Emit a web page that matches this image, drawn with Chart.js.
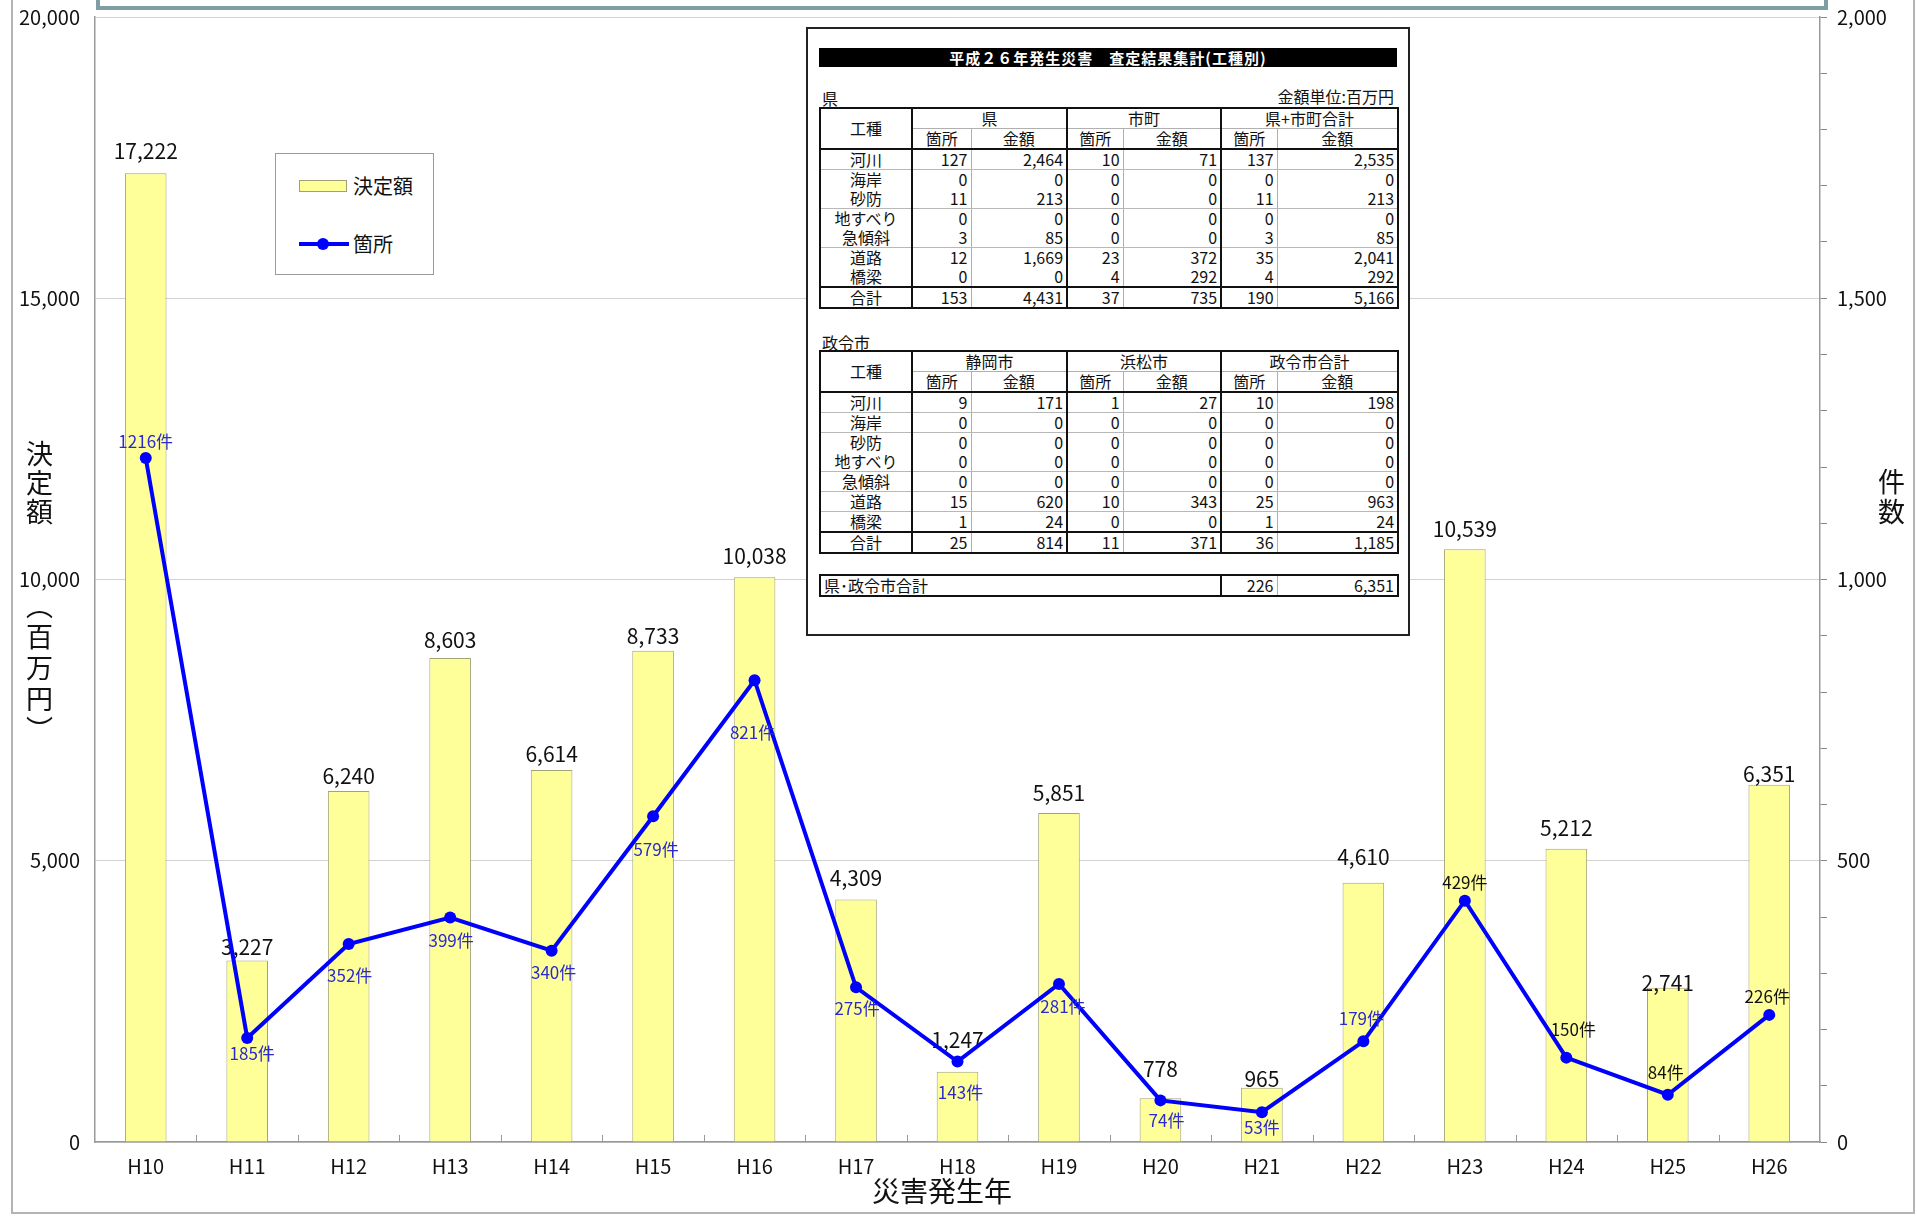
<!DOCTYPE html>
<html lang="ja">
<head>
<meta charset="utf-8">
<script src="https://cdn.jsdelivr.net/npm/chart.js@4/dist/chart.umd.min.js"></script>
<style>
  html, body { margin:0; padding:0; background:#fff; }
  body { width:1917px; height:1218px; position:relative; overflow:hidden; font-family:"Noto Sans CJK JP","Noto Sans",sans-serif; color:#111; }
  #chart { position:absolute; left:0; top:0; }
  .frame { position:absolute; left:11px; top:-10px; width:1904px; height:1224px; border:2px solid #b4b4b4; box-sizing:border-box; pointer-events:none; }
  .tealbox { position:absolute; left:96px; top:-30px; width:1732px; height:40px; border:4px solid #7f9ea3; box-sizing:border-box; background:#fff; }
  .legend { position:absolute; left:275px; top:153px; width:159px; height:122px; border:1px solid #9a9a9a; background:#fff; box-sizing:border-box; }
  .legend .sw1 { position:absolute; left:23px; top:26px; width:48px; height:12px; background:#ffff99; border:1px solid #a0a070; box-sizing:border-box; }
  .legend .ln { position:absolute; left:23px; top:88px; width:50px; height:4px; background:#0000ff; }
  .legend .dot { position:absolute; left:41px; top:84px; width:12px; height:12px; border-radius:50%; background:#0000ff; }
  .legend .t { position:absolute; left:77px; font-size:20px; line-height:24px; }
  .vtitle { position:absolute; writing-mode:vertical-rl; text-orientation:upright; font-size:27px; line-height:30px; }
  .xtitle { position:absolute; font-size:28px; line-height:32px; }
  .tbox { position:absolute; left:806px; top:27px; width:604px; height:609px; border:2px solid #222; background:#fff; box-sizing:border-box; }
  .tbar { position:absolute; left:819px; top:48px; width:578px; height:19px; background:#000; color:#fff; font-size:15px; line-height:19px; text-align:center; letter-spacing:1px; font-weight:bold; }
  .lbl { position:absolute; font-size:16px; line-height:18px; }
  table.t { position:absolute; border-collapse:collapse; table-layout:fixed; font-size:16px; line-height:19px; border:2px solid #111; background:#fff; }
  table.t td { height:19px; padding:0 3px; white-space:nowrap; overflow:hidden; }
  table.t td.c { text-align:center; }
  table.t td.r { text-align:right; }
  table.t .gb { border-right:2px solid #111; }
  table.t .tb { border-right:1px solid #b0b0b0; }
  table.t .hb { border-bottom:1px solid #b0b0b0; }
  table.t tr.hdr2 td { border-bottom:2px solid #111; }
  table.t tr.thin td { border-bottom:1px solid #b8b8b8; }
  table.t tr.tot td { border-top:2px solid #111; }
</style>
</head>
<body>
<canvas id="chart" width="1917" height="1218"></canvas>
<div class="frame"></div>
<div class="tealbox"></div>

<div class="legend">
  <div class="sw1"></div><div class="t" style="top:20px">決定額</div>
  <div class="ln"></div><div class="dot"></div><div class="t" style="top:78px">箇所</div>
</div>

<div class="vtitle" style="left:24px; top:440px; letter-spacing:2px;">決定額</div>
<div class="vtitle" style="left:24px; top:592px; letter-spacing:4px;">（百万円）</div>
<div class="vtitle" style="left:1876px; top:468px; letter-spacing:3px;">件数</div>
<div class="xtitle" style="left:872px; top:1174px;">災害発生年</div>

<div class="tbox"></div>
<div class="tbar">平成２６年発生災害　査定結果集計(工種別)</div>
<div class="lbl" style="left:822px; top:89px;">県</div>
<div class="lbl" style="left:1240px; width:154px; text-align:right; top:87px;">金額単位:百万円</div>
<div class="lbl" style="left:822px; top:333px;">政令市</div>
<div id="tables"></div>

<script>
// ---- chart data ----
const years = ['H10','H11','H12','H13','H14','H15','H16','H17','H18','H19','H20','H21','H22','H23','H24','H25','H26'];
const decidedAmount = [17222, 3227, 6240, 8603, 6614, 8733, 10038, 4309, 1247, 5851, 778, 965, 4610, 10539, 5212, 2741, 6351];
const siteCount = [1216, 185, 352, 399, 340, 579, 821, 275, 143, 281, 74, 53, 179, 429, 150, 84, 226];
const leftTicksMax = 20000;
const rightTicksMax = 2000;

// ---- table data ----
const workTypes = ['河川','海岸','砂防','地すべり','急傾斜','道路','橋梁'];
const kenCount = [127, 0, 11, 0, 3, 12, 0];
const kenAmount = [2464, 0, 213, 0, 85, 1669, 0];
const shichoCount = [10, 0, 0, 0, 0, 23, 4];
const shichoAmount = [71, 0, 0, 0, 0, 372, 292];
const kenShichoCount = [137, 0, 11, 0, 3, 35, 4];
const kenShichoAmount = [2535, 0, 213, 0, 85, 2041, 292];
const kenTotals = [153, 4431, 37, 735, 190, 5166];
const shizuokaCount = [9, 0, 0, 0, 0, 15, 1];
const shizuokaAmount = [171, 0, 0, 0, 0, 620, 24];
const hamamatsuCount = [1, 0, 0, 0, 0, 10, 0];
const hamamatsuAmount = [27, 0, 0, 0, 0, 343, 0];
const seireiCount = [10, 0, 0, 0, 0, 25, 1];
const seireiAmount = [198, 0, 0, 0, 0, 963, 24];
const seireiTotals = [25, 814, 11, 371, 36, 1185];
const grandTotal = [226, 6351];

// ---- label placement style (pixel offsets from each mark) ----
const barLabelDy = [-22,-13,-15,-18,-16,-15,-21,-22,-32,-20,-29,-9,-26,-20,-21,-5,-11];
const countLabelDy = [-16,16,32,23,22,33,52,21,31,23,20,15,-23,-18,-28,-22,-18];
const countLabelDx = [0,5,1,1,2,3,-2,1,3,4,6,0,-2,0,7,-2,-2];
const countLabelColor = ['#2a2ad0','#2a2ad0','#2a2ad0','#2a2ad0','#2a2ad0','#2a2ad0','#2a2ad0','#2a2ad0','#2a2ad0','#2a2ad0','#2a2ad0','#2a2ad0','#2a2ad0','#111','#111','#111','#111'];

const FONT = '"Noto Sans CJK JP", "Noto Sans", sans-serif';
const fmt = n => n.toLocaleString('en-US');

// ---- tables ----
function buildTable(top, groups, counts, amounts, totals, thinRows) {
  let h = '<colgroup><col style="width:92px"><col style="width:59px"><col style="width:96px"><col style="width:56px"><col style="width:98px"><col style="width:56px"><col style="width:121px"></colgroup>';
  h += '<tr><td class="c gb" rowspan="2" style="border-bottom:2px solid #111">工種</td>';
  groups.forEach(g => { h += '<td class="c gb hb" colspan="2">' + g + '</td>'; });
  h += '</tr><tr class="hdr2">';
  groups.forEach(() => { h += '<td class="c tb">箇所</td><td class="c gb">金額</td>'; });
  h += '</tr>';
  workTypes.forEach((w, i) => {
    h += '<tr' + (thinRows.includes(i) ? ' class="thin"' : '') + '><td class="c gb">' + w + '</td>';
    for (let g = 0; g < 3; g++) {
      h += '<td class="r tb">' + fmt(counts[g][i]) + '</td><td class="r gb">' + fmt(amounts[g][i]) + '</td>';
    }
    h += '</tr>';
  });
  h += '<tr class="tot"><td class="c gb">合計</td>';
  for (let g = 0; g < 3; g++) {
    h += '<td class="r tb">' + fmt(totals[g*2]) + '</td><td class="r gb">' + fmt(totals[g*2+1]) + '</td>';
  }
  h += '</tr>';
  return '<table class="t" style="left:819px; top:' + top + 'px; width:578px;">' + h + '</table>';
}
let tablesHtml = '';
tablesHtml += buildTable(107, ['県','市町','県+市町合計'],
  [kenCount, shichoCount, kenShichoCount], [kenAmount, shichoAmount, kenShichoAmount], kenTotals, [0,2,4]);
tablesHtml += buildTable(350, ['静岡市','浜松市','政令市合計'],
  [shizuokaCount, hamamatsuCount, seireiCount], [shizuokaAmount, hamamatsuAmount, seireiAmount], seireiTotals, [0,1,3,4,5]);
tablesHtml += '<table class="t" style="left:819px; top:574px; width:578px;"><colgroup><col style="width:401px"><col style="width:56px"><col style="width:121px"></colgroup>' +
  '<tr><td class="gb" style="text-align:left">県･政令市合計</td><td class="r tb">' + fmt(grandTotal[0]) + '</td><td class="r">' + fmt(grandTotal[1]) + '</td></tr></table>';
document.getElementById('tables').innerHTML = tablesHtml;

// ---- chart ----
const labelPlugin = {
  id: 'valueLabels',
  afterDatasetDraw(chart, args) {
    if (args.index !== 0) return;
    const ctx = chart.ctx;
    const meta = chart.getDatasetMeta(0);
    ctx.save();
    ctx.font = '21px ' + FONT;
    ctx.fillStyle = '#111';
    ctx.textAlign = 'center';
    ctx.textBaseline = 'middle';
    meta.data.forEach((el, i) => ctx.fillText(fmt(decidedAmount[i]), el.x, el.y + barLabelDy[i]));
    ctx.restore();
  },
  afterDatasetsDraw(chart) {
    const ctx = chart.ctx;
    const meta = chart.getDatasetMeta(1);
    ctx.save();
    ctx.font = '17px ' + FONT;
    ctx.textAlign = 'center';
    ctx.textBaseline = 'middle';
    meta.data.forEach((el, i) => {
      ctx.fillStyle = countLabelColor[i];
      ctx.fillText(siteCount[i] + '件', el.x + countLabelDx[i], el.y + countLabelDy[i]);
    });
    ctx.restore();
  },
  beforeDatasetsDraw(chart) {
    const ctx = chart.ctx, xs = chart.scales.x, bottom = chart.chartArea.bottom;
    ctx.save();
    ctx.strokeStyle = '#999';
    ctx.lineWidth = 1;
    for (let i = 0; i < years.length - 1; i++) {
      const x = Math.round((xs.getPixelForTick(i) + xs.getPixelForTick(i + 1)) / 2) + 0.5;
      ctx.beginPath(); ctx.moveTo(x, bottom); ctx.lineTo(x, bottom - 7); ctx.stroke();
    }
    ctx.restore();
  }
};

const fitV = w => s => { s.width = w; s.paddingTop = 0; s.paddingBottom = 0; };

new Chart(document.getElementById('chart'), {
  type: 'bar',
  data: {
    labels: years,
    datasets: [
      {
        type: 'bar', label: '決定額', data: decidedAmount, yAxisID: 'y', order: 2,
        backgroundColor: '#ffff99', borderColor: '#a3a374', borderWidth: 1,
        barPercentage: 0.41, categoryPercentage: 1.0
      },
      {
        type: 'line', label: '箇所', data: siteCount, yAxisID: 'y1', order: 1,
        borderColor: '#0000ff', borderWidth: 4, tension: 0,
        pointRadius: 6, pointBackgroundColor: '#0000ff', pointBorderColor: '#0000ff', pointBorderWidth: 0
      }
    ]
  },
  options: {
    responsive: false,
    animation: false,
    devicePixelRatio: 1,
    layout: { padding: { top: 17, left: 0, right: 0, bottom: 0 } },
    plugins: { legend: { display: false }, tooltip: { enabled: false } },
    scales: {
      x: {
        afterFit: s => { s.height = 76; s.paddingLeft = 0; s.paddingRight = 0; },
        grid: { display: true, drawOnChartArea: false, drawTicks: false },
        border: { display: true, color: '#999', width: 1.5 },
        ticks: { font: { size: 20, family: FONT }, color: '#111', padding: 12 }
      },
      y: {
        position: 'left', min: 0, max: leftTicksMax,
        afterFit: fitV(95),
        grid: { color: '#d2d2d2', lineWidth: 1, drawTicks: false },
        border: { display: true, color: '#999', width: 1.5 },
        ticks: { stepSize: 5000, font: { size: 20, family: FONT }, color: '#111', padding: 15, callback: v => fmt(v) }
      },
      y1: {
        position: 'right', min: 0, max: rightTicksMax,
        afterFit: fitV(97),
        grid: { drawOnChartArea: false, drawTicks: true, tickLength: 7, color: '#888' },
        border: { display: true, color: '#999', width: 1.5 },
        ticks: { stepSize: 100, autoSkip: false, font: { size: 20, family: FONT }, color: '#111', padding: 10,
                 callback: v => (v % 500 === 0 ? fmt(v) : '') }
      }
    }
  },
  plugins: [labelPlugin]
});
</script>
</body>
</html>
